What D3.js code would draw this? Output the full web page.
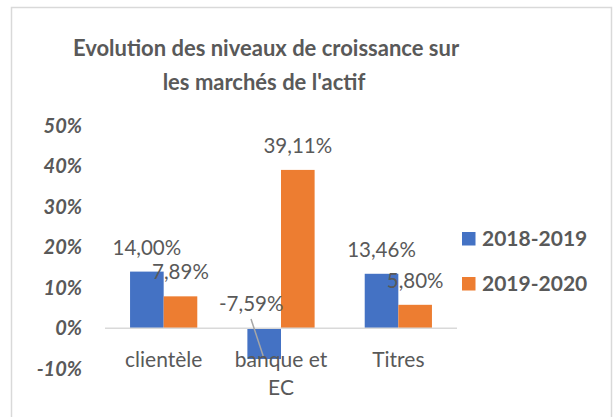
<!DOCTYPE html>
<html>
<head>
<meta charset="utf-8">
<script src="https://cdn.jsdelivr.net/npm/d3@7"></script>
<style>
  body { margin: 0; background: #fff; }
  svg text { font-family: Lato, "Open Sans", sans-serif; fill: #595959; }
</style>
</head>
<body>
<div id="chart"></div>
<script>
// data
var categories = [["clientèle"], ["banque et", "EC"], ["Titres"]];
var seriesNames = ["2018-2019", "2019-2020"];
var values1819 = [0.1400, -0.0759, 0.1346];
var values1920 = [0.0789, 0.3911, 0.0580];
var labels1819 = ["14,00%", "-7,59%", "13,46%"];
var labels1920 = ["7,89%", "39,11%", "5,80%"];
var yTicks = [0.5, 0.4, 0.3, 0.2, 0.1, 0, -0.1];
var colors = ["#4472C4", "#ED7D31"];

var W = 614, H = 417;
var svg = d3.select("#chart").append("svg")
    .attr("width", W).attr("height", H);

// chart area frame
svg.append("rect")
    .attr("x", 11.5).attr("y", 7.5)
    .attr("width", 600).attr("height", 420)
    .attr("fill", "#fff").attr("stroke", "#D9D9D9").attr("stroke-width", 1.5);

// title
var title = svg.append("text")
    .attr("text-anchor", "middle")
    .style("font-size", "22px").style("font-weight", "bold");
title.append("tspan").attr("x", 266).attr("y", 56).text("Evolution des niveaux de croissance sur");
title.append("tspan").attr("x", 264).attr("y", 90).text("les marchés de l'actif");

var x = d3.scaleBand()
    .domain(d3.range(categories.length))
    .range([105, 457])
    .paddingInner(0.427).paddingOuter(0.2135);
var xs = d3.scaleBand().domain([0, 1]).range([0, x.bandwidth()]);
var y = d3.scaleLinear().domain([-0.1, 0.5]).range([368.8, 125.8]);

// y axis labels
var yAxis = d3.axisLeft(y).tickValues(yTicks).tickSize(0).tickPadding(0)
    .tickFormat(function(d){ return Math.round(d * 100) + "%"; });
var ga = svg.append("g").attr("transform", "translate(82,0)").call(yAxis);
ga.select(".domain").remove();
ga.selectAll("text")
    .style("font-size", "20px").style("font-weight", "bold").style("font-style", "italic")
    .attr("fill", "#595959").attr("font-family", null);

// bars
var series = [values1819, values1920];
series.forEach(function(vals, s){
  svg.append("g").selectAll("rect")
    .data(vals).enter().append("rect")
    .attr("x", function(d, i){ return x(i) + xs(s); })
    .attr("y", function(d){ return y(Math.max(0, d)); })
    .attr("width", xs.bandwidth())
    .attr("height", function(d){ return Math.abs(y(d) - y(0)); })
    .attr("fill", colors[s]);
});

// zero line
svg.append("line")
    .attr("x1", 105).attr("x2", 457)
    .attr("y1", y(0)).attr("y2", y(0))
    .attr("stroke", "#D9D9D9").attr("stroke-width", 1.5);

// category labels
var gc = svg.append("g");
categories.forEach(function(lines, i){
  var t = gc.append("text").attr("text-anchor", "middle").style("font-size", "21px");
  lines.forEach(function(l, k){
    t.append("tspan").attr("x", x(i) + x.bandwidth() / 2).attr("y", 367 + k * 28).text(l);
  });
});

// leader line for the negative label
svg.append("line")
    .attr("x1", 251).attr("y1", 319)
    .attr("x2", x(1) + xs(0) + xs.bandwidth() / 2 - 1).attr("y2", y(values1819[1]) - 3)
    .attr("stroke", "#A6A6A6").attr("stroke-width", 1.5);

// data labels
var labelSets = [labels1819, labels1920];
series.forEach(function(vals, s){
  svg.append("g").selectAll("text")
    .data(vals).enter().append("text")
    .attr("text-anchor", "middle")
    .style("font-size", "20.5px")
    .attr("x", function(d, i){
      var cx = x(i) + xs(s) + xs.bandwidth() / 2;
      return (d < 0) ? cx - 13 : cx;
    })
    .attr("y", function(d){ return (d < 0 ? y(0) : y(d)) - 17; })
    .text(function(d, i){ return labelSets[s][i]; });
});

// legend
var lg = svg.append("g");
seriesNames.forEach(function(n, s){
  lg.append("rect").attr("x", 462).attr("y", 232 + s * 45)
    .attr("width", 13.5).attr("height", 13.5).attr("fill", colors[s]);
  lg.append("text").attr("x", 482).attr("y", 246 + s * 45)
    .style("font-size", "21px").style("font-weight", "bold").text(n);
});
</script>
</body>
</html>
